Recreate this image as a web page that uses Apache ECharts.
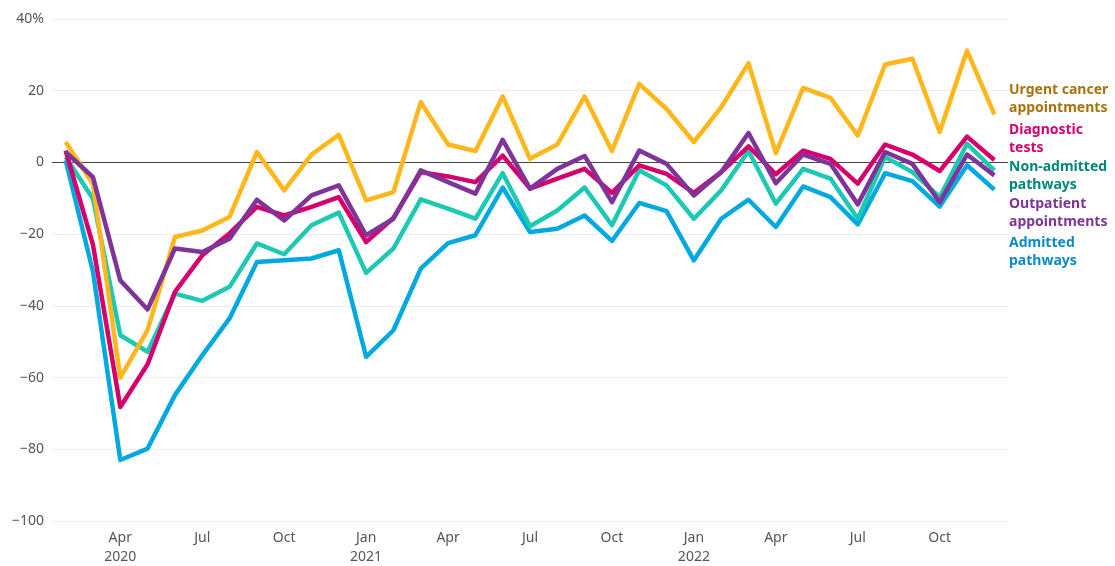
<!DOCTYPE html>
<html>
<head>
<meta charset="utf-8">
<script src="https://cdn.jsdelivr.net/npm/echarts@6/dist/echarts.min.js"></script>
<style>
  html, body { margin: 0; padding: 0; background: #fff; }
  #chart { width: 1115px; height: 566px; }
</style>
</head>
<body>
<div id="chart"></div>
<script>
// monthly change vs 2019, Feb 2020 - Dec 2022
var months = [
  'Feb 2020', 'Mar 2020', 'Apr 2020', 'May 2020', 'Jun 2020', 'Jul 2020', 'Aug 2020', 'Sep 2020', 'Oct 2020', 'Nov 2020', 'Dec 2020',
  'Jan 2021', 'Feb 2021', 'Mar 2021', 'Apr 2021', 'May 2021', 'Jun 2021', 'Jul 2021', 'Aug 2021', 'Sep 2021', 'Oct 2021', 'Nov 2021', 'Dec 2021',
  'Jan 2022', 'Feb 2022', 'Mar 2022', 'Apr 2022', 'May 2022', 'Jun 2022', 'Jul 2022', 'Aug 2022', 'Sep 2022', 'Oct 2022', 'Nov 2022', 'Dec 2022'
];

var urgentCancer = [5.7, -6, -60, -46.8, -20.8, -19, -15.2, 2.9, -7.8, 2.2, 7.7,
  -10.6, -8.3, 16.8, 5.0, 3.2, 18.4, 1.0, 5.0, 18.4, 3.2, 21.9, 14.9,
  5.7, 15.4, 27.7, 2.6, 20.8, 18.0, 7.5, 27.3, 28.9, 8.5, 31.2, 13.4];

var diagnosticTests = [3.3, -23, -68.2, -56.3, -36.1, -25.9, -19.8, -12.4, -14.8, -12.4, -9.7,
  -22.2, -15.5, -2.7, -3.9, -5.5, 1.9, -7.3, -4.5, -1.8, -8.5, -0.8, -3.2,
  -8.5, -2.7, 4.5, -3.3, 3.3, 1.0, -5.9, 5.0, 2.2, -2.4, 7.2, 0.7];

var nonAdmitted = [1.5, -10.1, -48.2, -52.8, -36.6, -38.6, -34.7, -22.6, -25.6, -17.5, -14,
  -30.8, -24, -10.3, -12.9, -15.7, -3.0, -17.8, -13.4, -7.0, -17.5, -2.2, -6.4,
  -15.7, -7.8, 3.2, -11.5, -1.8, -4.5, -15.7, 1.5, -2.7, -9.7, 5.2, -2.2];

var outpatient = [2.9, -4.1, -32.9, -41, -24, -25, -21.3, -10.4, -16.2, -9.2, -6.4,
  -20.3, -15.7, -2.2, -5.5, -8.7, 6.3, -7.3, -1.8, 1.8, -11.1, 3.3, -0.4,
  -9.2, -2.7, 8.2, -5.8, 2.2, -0.4, -11.7, 2.9, -0.4, -11.1, 2.2, -3.6];

var admitted = [0.6, -30.5, -83, -79.8, -64.9, -53.8, -43.5, -27.8, -27.3, -26.8, -24.5,
  -54.2, -46.8, -29.6, -22.5, -20.3, -7.0, -19.4, -18.5, -14.8, -21.9, -11.3, -13.6,
  -27.3, -15.7, -10.4, -18.0, -6.7, -9.7, -17.3, -3.0, -5.2, -12.3, -0.8, -7.6];

var yTicks = [-100, -80, -60, -40, -20, 0, 20, 40];

var font = '"Noto Sans", sans-serif';

function line(name, data, color) {
  return {
    name: name,
    type: 'line',
    data: data,
    symbol: 'none',
    lineStyle: { color: color, width: 4.5, join: 'round' },
    itemStyle: { color: color }
  };
}

function label(text, color, top) {
  return {
    type: 'text',
    left: 1009,
    top: top,
    style: {
      text: text,
      fill: color,
      font: 'bold 14px ' + font,
      lineHeight: 18
    }
  };
}

var chart = echarts.init(document.getElementById('chart'));
chart.setOption({
  animation: false,
  grid: { left: 52, right: 107, top: 19, bottom: 45, outerBoundsMode: 'none', containLabel: false },
  xAxis: {
    type: 'category',
    data: months,
    boundaryGap: true,
    axisLine: { show: false },
    axisTick: { show: false },
    axisLabel: {
      interval: function (i) { return i % 3 === 2; },
      color: '#555',
      fontFamily: font,
      fontSize: 14,
      lineHeight: 19,
      margin: 8,
      formatter: function (v) {
        var p = v.split(' ');
        if (p[0] === 'Jan' || v === 'Apr 2020') return p[0] + '\n' + p[1];
        return p[0];
      }
    }
  },
  yAxis: {
    type: 'value',
    min: yTicks[0],
    max: yTicks[yTicks.length - 1],
    interval: 20,
    axisLine: { show: false },
    axisTick: { show: false },
    splitLine: {
      lineStyle: {
        color: yTicks.map(function (t) { return t === 0 ? '#444' : '#eeeeee'; }),
        width: 1
      }
    },
    axisLabel: {
      color: '#555',
      fontFamily: font,
      fontSize: 14,
      margin: 8,
      formatter: function (v) {
        if (v === 40) return '40%';
        return v < 0 ? '\u2212' + Math.abs(v) : String(v);
      }
    }
  },
  series: [
    line('Admitted pathways', admitted, '#00a9e0'),
    line('Non-admitted pathways', nonAdmitted, '#1dc9b2'),
    line('Urgent cancer appointments', urgentCancer, '#ffb71b'),
    line('Diagnostic tests', diagnosticTests, '#d6006d'),
    line('Outpatient appointments', outpatient, '#7f3499')
  ],
  graphic: [
    label('Urgent cancer\nappointments', '#a8720d', 81),
    label('Diagnostic\ntests', '#d6006d', 121),
    label('Non-admitted\npathways', '#00877a', 158),
    label('Outpatient\nappointments', '#7f3499', 195),
    label('Admitted\npathways', '#0a8ac8', 234)
  ]
});
</script>
</body>
</html>
